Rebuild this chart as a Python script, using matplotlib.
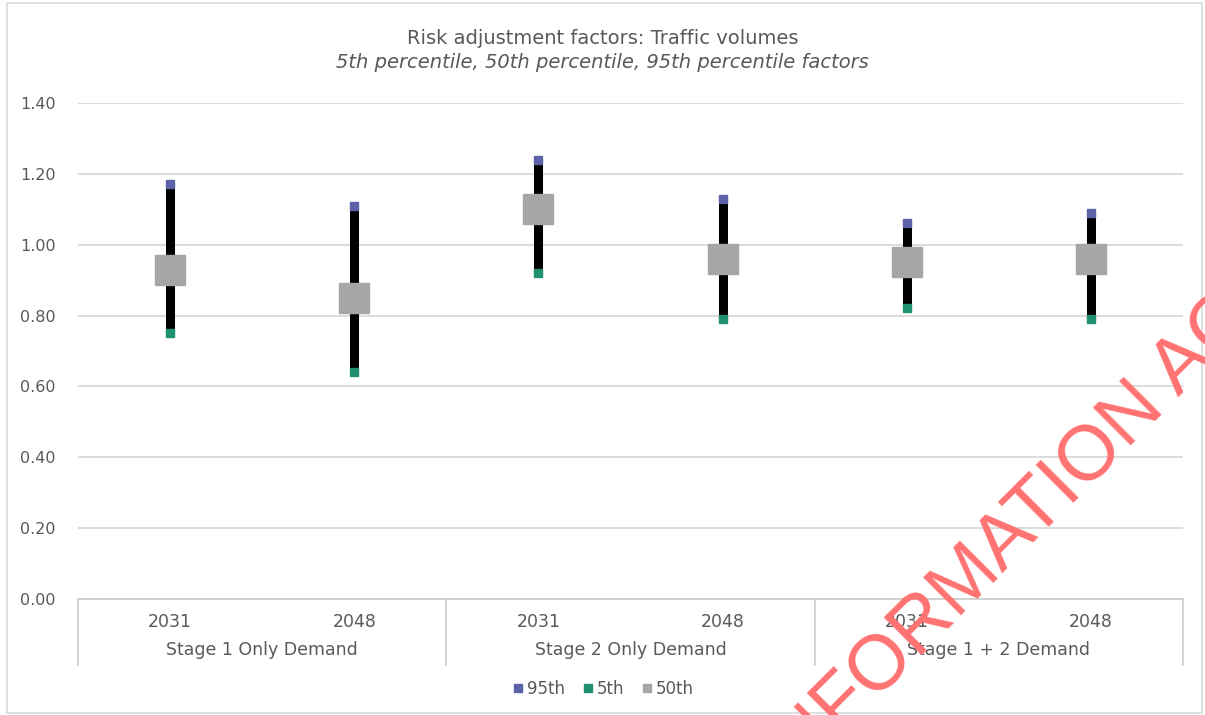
import matplotlib
matplotlib.use("Agg")
import matplotlib.pyplot as plt
from matplotlib.lines import Line2D
from matplotlib.patches import Rectangle
import matplotlib.transforms as mtransforms

plt.rcParams['font.family'] = ['DejaVu Sans']

groups = ["Stage 1 Only Demand", "Stage 2 Only Demand", "Stage 1 + 2 Demand"]
years = ["2031", "2048", "2031", "2048", "2031", "2048"]
p95 = [1.17, 1.11, 1.24, 1.13, 1.06, 1.09]
p5 = [0.75, 0.64, 0.92, 0.79, 0.82, 0.79]
p50 = [0.93, 0.85, 1.10, 0.96, 0.95, 0.96]
yticks = [0.0, 0.2, 0.4, 0.6, 0.8, 1.0, 1.2, 1.4]

W, H = 1205, 715
fig = plt.figure(figsize=(W / 100, H / 100), dpi=100)
ax = fig.add_axes([78 / W, 1 - 599 / H, (1183 - 78) / W, (599 - 103) / H])

x = list(range(len(years)))
ax.set_xlim(-0.5, len(years) - 0.5)
ax.set_ylim(0, 1.4)

c95 = '#5b62a8'
c5 = '#1f9070'
c50 = '#a6a6a6'
txt = '#595959'

ax.vlines(x, p5, p95, colors='black', linewidth=6.5, zorder=3)
ax.plot(x, p95, 's', color=c95, markersize=6, linestyle='none', zorder=4)
ax.plot(x, p5, 's', color=c5, markersize=6, linestyle='none', zorder=4)
ax.plot(x, p50, 's', color=c50, markersize=21, linestyle='none', zorder=5)

ax.set_yticks(yticks)
ax.set_yticklabels([f"{v:.2f}" for v in yticks], color=txt, fontsize=11.5)
ax.grid(axis='y', color='#d9d9d9', linewidth=1.3)
ax.set_axisbelow(True)
for s in ['top', 'right', 'left']:
    ax.spines[s].set_visible(False)
ax.spines['bottom'].set_color('#d0d0d0')
ax.spines['bottom'].set_linewidth(1.3)
ax.tick_params(axis='y', length=0, pad=16)
ax.tick_params(axis='x', length=0, pad=10)
ax.set_xticks(x)
ax.set_xticklabels(years, color=txt, fontsize=12.5)

trans = mtransforms.blended_transform_factory(ax.transData, ax.transAxes)
sep_bottom = -(665 - 599) / (599 - 103)
for sx in [-0.5, 1.5, 3.5, 5.5]:
    ax.plot([sx, sx], [0, sep_bottom], transform=trans, color='#d0d0d0',
            linewidth=1.3, clip_on=False)
for i, g in enumerate(groups):
    ax.text(2 * i + 0.5, -(650 - 599) / (599 - 103), g, transform=trans,
            ha='center', va='center', color=txt, fontsize=12.5)

fig.text(0.5, 1 - 38 / H, "Risk adjustment factors: Traffic volumes",
         ha='center', va='center', fontsize=14, color=txt)
fig.text(0.5, 1 - 62 / H, "5th percentile, 50th percentile, 95th percentile factors",
         ha='center', va='center', fontsize=14, color=txt, style='italic')

handles = [
    Line2D([], [], marker='s', color=c95, linestyle='none', markersize=6),
    Line2D([], [], marker='s', color=c5, linestyle='none', markersize=6),
    Line2D([], [], marker='s', color=c50, linestyle='none', markersize=6),
]
fig.legend(handles, ["95th", "5th", "50th"], loc='center',
           bbox_to_anchor=(0.5, 1 - 689 / H), ncol=3, frameon=False,
           fontsize=12, handletextpad=0.1, columnspacing=1.0, handlelength=0.8,
           labelcolor=txt)

# chart border
fig.add_artist(Rectangle((7 / W, 2 / H), (1202 - 7) / W, (712 - 2) / H,
                         transform=fig.transFigure, fill=False,
                         edgecolor='#d9d9d9', linewidth=1.2))

# watermark
fig.text(1023 / W, 1 - 524 / H, "INFORMATION ACT", rotation=45,
         rotation_mode='anchor', ha='center', va='center', fontsize=56,
         family='Liberation Sans', color='#ff7272', zorder=10)

fig.savefig("out.png", dpi=100)
